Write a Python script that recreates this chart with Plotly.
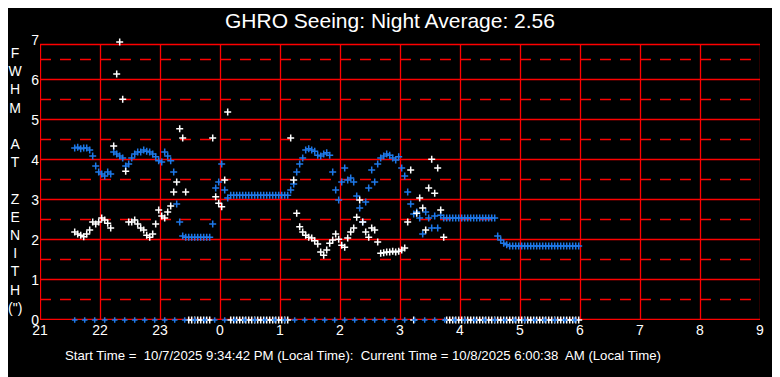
import plotly.graph_objects as go

# ---------------- data ----------------
TITLE = "GHRO Seeing: Night Average: 2.56"
FOOTER = "Start Time =\u00a0 10/7/2025 9:34:42 PM (Local Time):\u00a0 Current Time = 10/8/2025 6:00:38\u00a0 AM (Local Time)"
Y_LETTERS = ["F", "W", "H", "M", "\u00a0", "A", "T", "\u00a0", "Z", "E", "N", "I", "T", "H", "(\")"]

x_tick_vals = [21, 22, 23, 24, 25, 26, 27, 28, 29, 30, 31, 32, 33]
x_tick_text = ["21", "22", "23", "0", "1", "2", "3", "4", "5", "6", "7", "8", "9"]
y_tick_vals = [0, 1, 2, 3, 4, 5, 6, 7]
half_levels = [0.5, 1.5, 2.5, 3.5, 4.5, 5.5, 6.5]

start_hour = 21 + 34 / 60 + 42 / 3600   # 9:34:42 PM
sample_step_h = 3 / 60                  # one reading every 3 minutes
zero_step_h = 10 / 60                   # zero-row markers every 10 minutes

blue_values = [
    4.30, 4.32, 4.28, 4.30, 4.30, 4.25,
    4.10, 3.85, 3.70, 3.65, 3.60, 3.70, 3.65,
    4.20, 4.15, 4.10, 4.05, 3.85, 3.90,
    4.05, 4.15, 4.20, 4.20, 4.25, 4.22, 4.20,
    4.15, 4.08, 3.98, 3.95, 4.20, 4.10, 3.98, 3.70,
    2.90, 2.45, 2.10,
    2.07, 2.07, 2.07, 2.07, 2.07, 2.07, 2.07, 2.07, 2.07,
    2.40, 3.30, 3.45, 3.90, 3.25, 3.05,
    3.12, 3.12, 3.12, 3.12, 3.12, 3.12, 3.12, 3.12, 3.12, 3.12,
    3.12, 3.12, 3.12, 3.12, 3.12, 3.12, 3.12, 3.12, 3.12, 3.12,
    3.25, 3.40, 3.70, 3.90, 4.05, 4.25, 4.28, 4.25, 4.22, 4.12, 4.10, 4.15, 4.18, 4.12,
    3.70, 3.25, 3.00, 3.45, 3.80, 3.50, 3.55, 3.45, 3.10, 2.80, 2.45, 2.95, 3.30, 3.75, 3.45, 3.90,
    4.05, 4.10, 4.15, 4.12, 4.05, 4.00, 4.08,
    3.80, 3.60, 3.20, 2.90, 2.65, 2.70, 2.55, 2.15, 2.70, 2.55, 2.30, 2.60, 2.30, 2.62,
    2.55, 2.55, 2.55, 2.55, 2.55, 2.55, 2.55, 2.55, 2.55,
    2.55, 2.55, 2.55, 2.55, 2.55, 2.55, 2.55, 2.55, 2.55,
    2.10, 2.00, 1.92, 1.88,
    1.85, 1.85, 1.85, 1.85, 1.85, 1.85, 1.85, 1.85, 1.85, 1.85, 1.85, 1.85,
    1.85, 1.85, 1.85, 1.85, 1.85, 1.85, 1.85, 1.85, 1.85, 1.85, 1.85, 1.85,
]

white_values = [
    2.20, 2.15, 2.12, 2.08, 2.15, 2.25, 2.45, 2.40, 2.45, 2.55, 2.50, 2.42, 2.30,
    4.35, 6.15, 6.95, 5.52, 3.72, 2.45,
    2.45, 2.50, 2.40, 2.30, 2.25, 2.12, 2.07, 2.15, 2.40, 2.75, 2.60, 2.55, 2.70,
    2.85, 3.20, 3.45, 4.78, 4.55, 3.20,
    0, 0, 0, 0, 0, 0, 0, 0,
    4.55, 3.08, 2.92, 2.83, 3.50, 5.20,
    0, 0, 0, 0, 0, 0, 0, 0, 0, 0, 0, 0, 0, 0, 0, 0, 0, 0, 0, 0,
    4.55, 3.50, 2.67, 2.33, 2.20, 2.12, 2.07, 2.05, 1.98, 1.90, 1.70, 1.62, 1.75, 1.92,
    2.00, 2.15, 2.02, 1.87, 1.82, 2.05, 2.20, 2.30, 2.57, 3.00, 2.45, 2.20, 2.07, 2.30,
    2.25, 1.95, 1.67, 1.68, 1.70, 1.70, 1.72, 1.70, 1.72, 1.75, 1.80, 2.45, 3.75,
    0,
    2.67, 3.05, 2.80, 2.25, 3.30, 4.02, 3.17, 3.80, 2.75, 2.07,
    0, 0, 0, 0, 0, 0, 0, 0, 0, 0, 0, 0, 0, 0, 0,
    0, 0, 0, 0, 0, 0, 0, 0, 0, 0, 0, 0, 0, 0, 0,
    0, 0, 0, 0, 0, 0, 0, 0, 0, 0, 0, 0, 0, 0, 0,
]

zero_row_count = 51

# ---------------- figure ----------------
times = [start_hour + i * sample_step_h for i in range(len(blue_values))]
zero_times = [start_hour + i * zero_step_h for i in range(zero_row_count)]
zero_vals = [0] * zero_row_count

BLUE = "#1E78E8"
RED = "#FF0000"
FONT = "Liberation Sans, Arial, sans-serif"
TOP = 6.875

# page body margin (8px) compensation
PAGE_OFF = 8
PLOT_L, PLOT_T, PLOT_R, PLOT_B = 40, 40, 760, 320   # plot area in page pixels
W = 780 - PAGE_OFF
H = 377 - PAGE_OFF
PX_X = 60.0   # pixels per hour
PX_Y = 40.0   # pixels per unit
hx = 0.5 / PX_X   # half-pixel offsets for crisp 1px lines
hy = 0.5 / PX_Y

fig = go.Figure()

# dashed half-unit grid lines as line traces (one trace, gaps via None)
dash_x, dash_y = [], []
for v in half_levels:
    dash_x += [21, 33, None]
    dash_y += [v + hy, v + hy, None]
fig.add_trace(go.Scatter(x=dash_x, y=dash_y, mode="lines", hoverinfo="skip",
                         line=dict(color=RED, width=1.6, dash="11px,9px")))

fig.add_trace(go.Scatter(x=times, y=blue_values, mode="markers", cliponaxis=False,
                         marker=dict(symbol="cross-thin", size=5, line=dict(color=BLUE, width=1.5))))
fig.add_trace(go.Scatter(x=times, y=white_values, mode="markers", cliponaxis=False,
                         marker=dict(symbol="cross-thin", size=5, line=dict(color="white", width=1.5))))
fig.add_trace(go.Scatter(x=zero_times, y=zero_vals, mode="markers", cliponaxis=False,
                         marker=dict(symbol="cross-thin", size=4, line=dict(color=BLUE, width=1.5))))

shapes = []
for v in range(1, 7):
    shapes.append(dict(type="line", x0=21, x1=33, y0=v + hy, y1=v + hy, xref="x", yref="y",
                       line=dict(color=RED, width=1.3), layer="below"))
for h in x_tick_vals:
    shapes.append(dict(type="line", x0=h + hx, x1=h + hx, y0=0, y1=TOP, xref="x", yref="y",
                       line=dict(color=RED, width=1.3), layer="below"))
shapes.append(dict(type="line", x0=21, x1=33, y0=hy, y1=hy, xref="x", yref="y",
                   line=dict(color=RED, width=1.3), layer="below"))
shapes.append(dict(type="line", x0=21, x1=33, y0=TOP + hy, y1=TOP + hy, xref="x", yref="y",
                   line=dict(color=RED, width=1.3), layer="below"))

plot_w = PLOT_R - PLOT_L
plot_h = PLOT_B - PLOT_T

def px_to_paper_x(px):
    return (px - PLOT_L) / plot_w

def px_to_paper_y(py):
    return (PLOT_B - py) / plot_h

annotations = [
    dict(text=TITLE, xref="paper", x=px_to_paper_x(390), yref="paper", y=px_to_paper_y(20),
         showarrow=False, xanchor="center", yanchor="middle",
         font=dict(size=21, color="white", family=FONT)),
    dict(text="<br>".join(Y_LETTERS), xref="paper", x=px_to_paper_x(15), yref="paper",
         y=px_to_paper_y(180), showarrow=False, xanchor="center", yanchor="middle",
         font=dict(size=14, color="white", family=FONT)),
    dict(text=FOOTER, xref="paper", x=px_to_paper_x(363), yref="paper", y=px_to_paper_y(355),
         showarrow=False, xanchor="center", yanchor="middle",
         font=dict(size=13.2, color="white", family=FONT)),
]

fig.update_layout(
    width=W, height=H,
    margin=dict(l=PLOT_L - PAGE_OFF, r=W - (PLOT_R - PAGE_OFF), t=PLOT_T - PAGE_OFF,
                b=H - (PLOT_B - PAGE_OFF), pad=0),
    paper_bgcolor="black", plot_bgcolor="black",
    showlegend=False,
    shapes=shapes, annotations=annotations,
    xaxis=dict(range=[21, 33], tickvals=x_tick_vals, ticktext=x_tick_text,
               showgrid=False, zeroline=False, showline=False, ticks="",
               tickfont=dict(size=14, color="white", family=FONT)),
    yaxis=dict(range=[0, 7], tickvals=y_tick_vals, showgrid=False, zeroline=False,
               showline=False, ticks="",
               tickfont=dict(size=14, color="white", family=FONT)),
)

fig.write_html("out.html")
